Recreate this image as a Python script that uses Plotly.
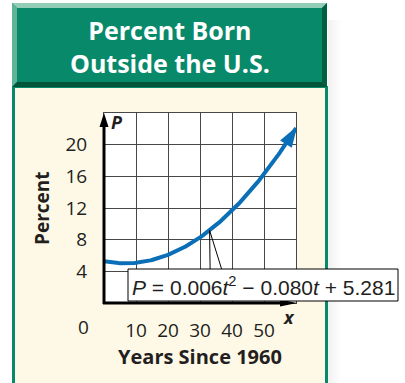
import numpy as np
import plotly.graph_objects as go

# ---- data -------------------------------------------------------------
coef = [0.006, -0.080, 5.281]          # P = a t^2 + b t + c
t_vals = np.linspace(0, 60, 121)
p_vals = coef[0] * t_vals**2 + coef[1] * t_vals + coef[2]
callout_t = 33

x_ticks = [10, 20, 30, 40, 50]
x_text = ["10", "20", "30", "40", "50"]
y_ticks = [4, 8, 12, 16, 20]
y_text = ["4", "8", "12", "16", "20"]

title_lines = ["Percent Born", "Outside the U.S."]
x_title = "Years Since 1960"
y_title = "Percent"
formula = "<i>P</i> = 0.006<i>t</i><sup>2</sup> − 0.080<i>t</i> + 5.281"

# ---- geometry (pixels) ------------------------------------------------
W_FIG, H_FIG = 405, 383
L, R, T, B = 104, 296, 113, 303
PW, PH = R - L, B - T


def px(x):
    return (x - L) / PW


def py(y):
    return (B - y) / PH


GREEN = "#07896a"
CREAM = "#fef9e7"
BLUE = "#0b6fb8"
INK = "#231f20"
GRID = "#474747"
SANS = "Open Sans, DejaVu Sans, sans-serif"

fig = go.Figure()

fig.add_trace(go.Scatter(
    x=t_vals, y=p_vals, mode="lines",
    line=dict(color=BLUE, width=4),
    hoverinfo="skip", showlegend=False, cliponaxis=False,
))
# arrowhead at the end of the curve
fig.add_trace(go.Scatter(
    x=t_vals[-2:], y=p_vals[-2:], mode="markers",
    marker=dict(symbol="arrow", angleref="previous", size=[0, 19], color=BLUE,
                opacity=1, line=dict(width=1.5, color=BLUE)),
    hoverinfo="skip", showlegend=False, cliponaxis=False,
))


def rect(x0, y0, x1, y1, fill, layer="below", line=None):
    return dict(type="rect", xref="paper", yref="paper",
                x0=px(x0), x1=px(x1), y0=py(y0), y1=py(y1),
                fillcolor=fill, line=line or dict(width=0), layer=layer)


def poly(pts, fill, layer="below", line=None):
    d = "M" + " L".join(f"{px(a):.5f},{py(b):.5f}" for a, b in pts) + " Z"
    return dict(type="path", xref="paper", yref="paper", path=d,
                fillcolor=fill, line=line or dict(width=0), layer=layer)


shapes = []
# drop shadow to the right of the panel
for i, a in enumerate([0.05, 0.04, 0.03, 0.02, 0.012]):
    shapes.append(rect(328 + i * 2.5, 20, 330.5 + i * 2.5, 400, f"rgba(0,0,0,{a})"))
# panel body and borders
shapes.append(rect(12, 86, 328, 400, CREAM))
shapes.append(rect(12, 86, 15, 400, GREEN))
shapes.append(rect(325, 86, 328, 400, GREEN))
# header block with bevelled edges
shapes.append(rect(12, 3, 327, 88, GREEN))
shapes.append(poly([(12, 3), (327, 3), (322, 8), (17, 8)], "#93cdb7"))
shapes.append(poly([(12, 3), (17, 8), (17, 82), (12, 87)], "#5fb398"))
shapes.append(poly([(327, 3), (327, 87), (322, 82), (322, 8)], "#00603f"))
shapes.append(poly([(12, 87), (17, 82), (322, 82), (327, 87)], "#00553a"))
# white plotting field
shapes.append(rect(L, T, R, B, "white"))

# thick axes with arrowheads
shapes.append(dict(type="line", xref="paper", yref="paper",
                   x0=px(L), y0=py(B + 1), x1=px(L), y1=py(T + 8),
                   line=dict(color="black", width=3), layer="above"))
shapes.append(dict(type="line", xref="paper", yref="paper",
                   x0=px(L - 1), y0=py(B), x1=px(R - 8), y1=py(B),
                   line=dict(color="black", width=3), layer="above"))
shapes.append(poly([(L, T), (L - 4.5, T + 14), (L + 4.5, T + 14)], "black", "above"))
shapes.append(poly([(R + 1, B), (R - 16, B - 3.5), (R - 16, B + 3.5)], "black", "above"))

# equation box and its pointer
box = (128, 269, 398, 301)
shapes.append(rect(*box, "white", "above", dict(color="black", width=1)))
tip_p = coef[0] * callout_t**2 + coef[1] * callout_t + coef[2]
tip_x = L + callout_t / 60 * PW
tip_y = B - tip_p / 24 * PH
shapes.append(dict(type="path", xref="paper", yref="paper", layer="above",
                   path=(f"M{px(tip_x + 0.5):.5f},{py(box[1]):.5f} "
                         f"L{px(tip_x):.5f},{py(tip_y):.5f} "
                         f"L{px(tip_x + 12):.5f},{py(box[1]):.5f}"),
                   line=dict(color="black", width=1)))

annotations = []


def label(text, x, y, size, color=INK, bold=False, italic=False, family=SANS,
          angle=0, xanchor="center"):
    if bold:
        text = f"<b>{text}</b>"
    if italic:
        text = f"<i>{text}</i>"
    annotations.append(dict(text=text, xref="paper", yref="paper",
                            x=px(x), y=py(y), xanchor=xanchor, yanchor="middle",
                            showarrow=False, textangle=angle,
                            font=dict(family=family, size=size, color=color)))


label("<br>".join(title_lines), 170, 46, 25, "white", bold=True)
label(y_title, 42, 208, 19, bold=True, angle=-90)
label(x_title, 200, 356, 20, bold=True)
label("0", 83, 327, 19)
label("P", 117, 122, 18, bold=True, italic=True)
label("x", 289, 317, 18, bold=True, italic=True)
label(formula, (box[0] + box[2]) / 2, 286, 21,
      family="Liberation Sans, Arial, sans-serif")

fig.update_layout(
    width=W_FIG, height=H_FIG,
    margin=dict(l=L, r=W_FIG - R, t=T, b=H_FIG - B, pad=0),
    paper_bgcolor="white", plot_bgcolor="rgba(0,0,0,0)",
    shapes=shapes, annotations=annotations, showlegend=False,
    xaxis=dict(range=[0, 60], tickvals=x_ticks, ticktext=x_text,
               showgrid=True, gridcolor=GRID, gridwidth=1, zeroline=False,
               showline=True, mirror=True, linecolor=GRID, linewidth=1,
               ticks="outside", ticklen=10, tickcolor="rgba(0,0,0,0)",
               tickfont=dict(family=SANS, size=19, color=INK), fixedrange=True),
    yaxis=dict(range=[0, 24], tickvals=y_ticks, ticktext=y_text,
               showgrid=True, gridcolor=GRID, gridwidth=1, zeroline=False,
               showline=True, mirror=True, linecolor=GRID, linewidth=1,
               ticks="outside", ticklen=12, tickcolor="rgba(0,0,0,0)",
               tickfont=dict(family=SANS, size=19, color=INK), fixedrange=True),
)

fig.write_html("out.html", config=dict(displayModeBar=False))
